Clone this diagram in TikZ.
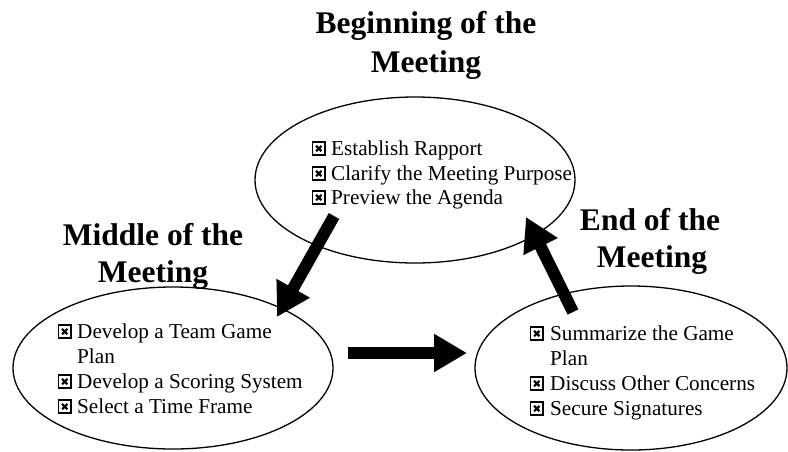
\documentclass[tikz,border=0pt]{standalone}
\usepackage{fontspec}
\setmainfont{Liberation Serif}
\usetikzlibrary{arrows.meta,shapes.geometric}
\begin{document}
\begin{tikzpicture}[x=1pt,y=-1pt,
  oval/.style={draw,ellipse,line width=1.3pt,inner sep=0pt},
  title/.style={font=\fontsize{31.5}{38}\selectfont\bfseries,anchor=base,inner sep=0pt},
  item/.style={font=\fontsize{21.2}{25}\selectfont,anchor=base west,inner sep=0pt},
  xbox/.style={draw,line width=1.9pt,minimum size=12.6pt,inner sep=0pt,anchor=south west,
    path picture={\draw[line width=2.2pt]
      ([shift={(-2.7,-2.7)}]path picture bounding box.center) -- ([shift={(2.7,2.7)}]path picture bounding box.center)
      ([shift={(-2.7,2.7)}]path picture bounding box.center) -- ([shift={(2.7,-2.7)}]path picture bounding box.center);}},
  bigarrow/.style={line width=12pt,-{Triangle[width=36pt,length=33pt]}}]
\useasboundingbox (0,0) rectangle (788,451);

% ellipses
\node[oval,minimum width=320pt,minimum height=166pt] (top) at (415,180) {};
\node[oval,minimum width=320pt,minimum height=162pt] (mid) at (173,368) {};
\node[oval,minimum width=312pt,minimum height=164pt] (end) at (631,368) {};

% titles
\node[title] (begA) at (426,33) {Beginning of the};
\node[title] (begB) at (426,72) {Meeting};
\node[title] (midA) at (153,245) {Middle of the};
\node[title] (midB) at (153,282) {Meeting};
\node[title] (endA) at (650,230) {End of the};
\node[title] (endB) at (652,267) {Meeting};

% top list
\node[xbox] (tb1) at (311.5,155.8) {};
\node[item] (t1) at (331,155) {Establish Rapport};
\node[xbox] (tb2) at (311.5,180.8) {};
\node[item] (t2) at (331,180) {Clarify the Meeting Purpose};
\node[xbox] (tb3) at (311.5,204.8) {};
\node[item] (t3) at (331,204) {Preview the Agenda};

% middle list
\node[xbox] (mb1) at (57.5,338.8) {};
\node[item] (m1) at (77,338) {Develop a Team Game};
\node[item] (m1b) at (77,363) {Plan};
\node[xbox] (mb2) at (57.5,388.8) {};
\node[item] (m2) at (77,388) {Develop a Scoring System};
\node[xbox] (mb3) at (57.5,413.8) {};
\node[item] (m3) at (77,413) {Select a Time Frame};

% end list
\node[xbox] (eb1) at (529.5,340.8) {};
\node[item] (e1) at (550,340) {Summarize the Game};
\node[item] (e1b) at (550,365) {Plan};
\node[xbox] (eb2) at (529.5,390.8) {};
\node[item] (e2) at (550,390) {Discuss Other Concerns};
\node[xbox] (eb3) at (529.5,415.8) {};
\node[item] (e3) at (550,415) {Secure Signatures};

% arrows
\coordinate (a1s) at (334,216);
\coordinate (a1e) at (277,317);
\coordinate (a2s) at (348,353);
\coordinate (a2e) at (467,353);
\coordinate (a3s) at (573,312);
\coordinate (a3e) at (526,217);
\draw[bigarrow] (a1s) -- (a1e);
\draw[bigarrow] (a2s) -- (a2e);
\draw[bigarrow] (a3s) -- (a3e);
\end{tikzpicture}
\end{document}
